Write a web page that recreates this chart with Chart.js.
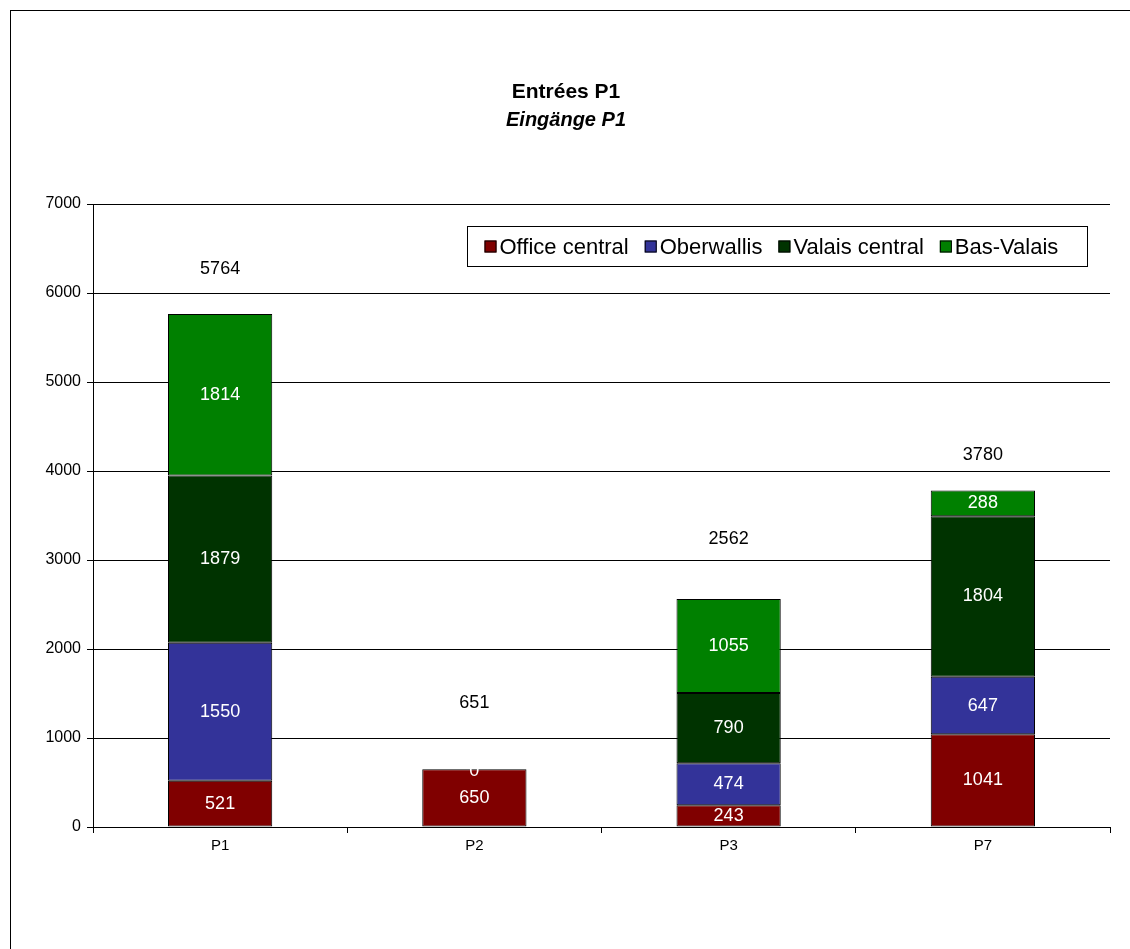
<!DOCTYPE html>
<html>
<head>
<meta charset="utf-8">
<script src="https://cdn.jsdelivr.net/npm/chart.js@4.4.0/dist/chart.umd.min.js"></script>
<style>
  body { margin: 0; background: #fff; }
  #wrap { width: 1130px; height: 949px; position: relative; }
</style>
</head>
<body>
<div id="wrap"><canvas id="entreesChart" width="1130" height="949"></canvas></div>
<script>
const categories = ['P1', 'P2', 'P3', 'P7'];
const officeCentral = [521, 650, 243, 1041];
const oberwallis = [1550, 0, 474, 647];
const valaisCentral = [1879, null, 790, 1804];
const basValais = [1814, null, 1055, 288];
const totals = [5764, 651, 2562, 3780];
const yTicks = [0, 1000, 2000, 3000, 4000, 5000, 6000, 7000];

const FONT = 'Liberation Sans, Arial, sans-serif';

// frame, title, legend box, value labels
const decorations = {
    id: 'decorations',
    beforeDraw(chart) {
        const ctx = chart.ctx;
        ctx.save();
        ctx.fillStyle = '#fff';
        ctx.fillRect(0, 0, chart.width, chart.height);
        ctx.strokeStyle = '#000';
        ctx.lineWidth = 1;
        ctx.strokeRect(10.5, 10.5, 1130, 960);
        ctx.fillStyle = '#000';
        ctx.textAlign = 'center';
        ctx.textBaseline = 'middle';
        ctx.font = 'bold 21px ' + FONT;
        ctx.fillText('Entrées P1', 566, 92);
        ctx.font = 'italic bold 20px ' + FONT;
        ctx.fillText('Eingänge P1', 566, 120);
        ctx.restore();
    },
    afterDatasetsDraw(chart) {
        const ctx = chart.ctx;
        ctx.save();
        ctx.textAlign = 'center';
        ctx.textBaseline = 'middle';
        ctx.font = '18px ' + FONT;
        ctx.fillStyle = '#fff';
        chart.data.datasets.forEach((ds, i) => {
            const meta = chart.getDatasetMeta(i);
            meta.data.forEach((bar, j) => {
                const v = ds.data[j];
                if (v === null || v === undefined) return;
                const y = v === 0 ? bar.y + 2 : (bar.y + bar.base) / 2;
                ctx.fillText(String(v), bar.x, y);
            });
        });
        // totals above stacks
        const totalOffsets = [45, 66, 60, 36];
        ctx.fillStyle = '#000';
        const yScale = chart.scales.y;
        const xScale = chart.scales.x;
        totals.forEach((t, j) => {
            ctx.fillText(String(t), xScale.getPixelForValue(j), yScale.getPixelForValue(t) - totalOffsets[j]);
        });

        // legend
        const lx = 467.5, ly = 226.5, lw = 620, lh = 40;
        ctx.fillStyle = '#fff';
        ctx.fillRect(lx, ly, lw, lh);
        ctx.strokeStyle = '#000';
        ctx.lineWidth = 1;
        ctx.strokeRect(lx, ly, lw, lh);
        ctx.font = '22px ' + FONT;
        ctx.textAlign = 'left';
        let x = lx + 17;
        const cy = ly + lh / 2;
        chart.data.datasets.forEach(ds => {
            ctx.fillStyle = ds.backgroundColor;
            ctx.fillRect(x, cy - 6, 12, 12);
            ctx.strokeStyle = '#000';
            ctx.strokeRect(x + 0.5, cy - 5.5, 11, 11);
            ctx.fillStyle = '#000';
            ctx.fillText(ds.label, x + 15, cy + 1);
            x += 15 + ctx.measureText(ds.label).width + 16;
        });
        ctx.restore();
    }
};

const ds = (label, data, color) => ({
    label: label,
    data: data,
    backgroundColor: color,
    borderColor: '#000',
    borderWidth: 1,
    borderSkipped: false,
    barPercentage: 0.41,
    categoryPercentage: 1
});

new Chart(document.getElementById('entreesChart'), {
    type: 'bar',
    data: {
        labels: categories,
        datasets: [
            ds('Office central', officeCentral, '#800000'),
            ds('Oberwallis', oberwallis, '#333399'),
            ds('Valais central', valaisCentral, '#003300'),
            ds('Bas-Valais', basValais, '#008000')
        ]
    },
    options: {
        responsive: false,
        animation: false,
        layout: { padding: { top: 204, right: 20, left: 0, bottom: 0 } },
        plugins: {
            legend: { display: false },
            title: { display: false },
            tooltip: { enabled: false }
        },
        scales: {
            x: {
                stacked: true,
                grid: { display: true, drawOnChartArea: false, drawTicks: true, tickLength: 6, color: '#000' },
                border: { color: '#000' },
                ticks: { color: '#000', font: { family: FONT, size: 15 }, padding: 4 },
                afterFit(scale) { scale.height = 122; }
            },
            y: {
                stacked: true,
                min: 0,
                max: 7000,
                afterBuildTicks(scale) { scale.ticks = yTicks.map(v => ({ value: v })); },
                grid: { color: '#000', lineWidth: 1, tickLength: 6 },
                border: { color: '#000' },
                ticks: {
                    color: '#000',
                    font: { family: FONT, size: 16 },
                    padding: 6,
                    callback: v => String(v)
                },
                afterFit(scale) { scale.width = 93; }
            }
        }
    },
    plugins: [decorations]
});
</script>
</body>
</html>
